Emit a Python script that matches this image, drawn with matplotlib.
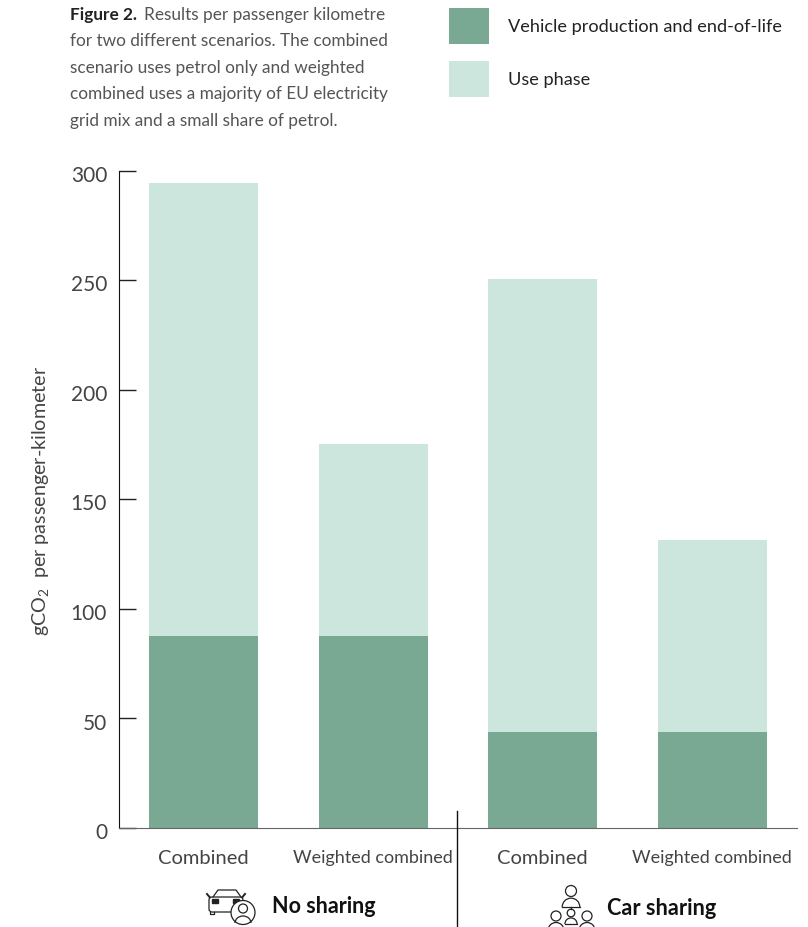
import matplotlib
matplotlib.use('Agg')
from matplotlib import pyplot as plt
from matplotlib.patches import Rectangle, Circle, FancyBboxPatch, Arc
from matplotlib.transforms import ScaledTranslation

categories = ['Combined', 'Weighted combined', 'Combined', 'Weighted combined']
production = [87.4, 87.4, 43.6, 43.6]
use_phase = [207.1, 87.9, 206.9, 87.9]
yticks = [0, 50, 100, 150, 200, 250, 300]
caption_rest = ['Results per passenger kilometre',
                'for two different scenarios. The combined',
                'scenario uses petrol only and weighted',
                'combined uses a majority of EU electricity',
                'grid mix and a small share of petrol.']
legend_labels = ['Vehicle production and end-of-life', 'Use phase']
dark = '#79a893'
light = '#cce6dd'
W, H = 808, 928

plt.rcParams['font.family'] = ['Lato', 'DejaVu Sans']
plt.rcParams['mathtext.default'] = 'regular'
fig = plt.figure(figsize=(W / 100, H / 100), dpi=100)

# axes from x=119..797 px, y=171 (300) .. 828 (0), half a pixel down for the snapping
ax = fig.add_axes([119 / W, 1 - 828.5 / H, 678 / W, 657 / H])
xs = [0, 1, 2, 3]
ax.bar(xs, production, width=0.643, color=dark)
ax.bar(xs, use_phase, width=0.643, bottom=production, color=light)
ax.set_xlim(-0.4985, 3.5)
ax.set_ylim(0, 300)
ax.set_yticks(yticks)
ax.set_xticks(xs)
ax.set_xticklabels(categories)
ax.tick_params(axis='x', length=0, pad=15.5, labelcolor='#444444')
ax.tick_params(axis='y', length=12.2, width=1, color='#222222', direction='in', pad=8.6,
               labelsize=15, labelcolor='#444444')
for t, size in zip(ax.get_xticklabels(), [14.5, 13, 14.5, 13]):
    t.set_fontsize(size)
# the numbers sit a little below their ticks
down = ScaledTranslation(0, -2.5 / 100, fig.dpi_scale_trans)
for t in ax.get_yticklabels():
    t.set_transform(t.get_transform() + down)
for s in ['top', 'right']:
    ax.spines[s].set_visible(False)
ax.spines['left'].set_color('#111111')
ax.spines['bottom'].set_color('#666666')
ax.set_ylabel(r'gCO$_2$  per passenger-kilometer', fontsize=14.2, color='#444444')
ax.yaxis.set_label_coords((51 - 119) / 678, 0.498)


def px(x, y):
    return x / W, 1 - y / H


def ptext(x, y, s, **kw):
    fig.text(*px(x, y), s, va='center', **kw)


# caption
ptext(70, 15, 'Figure 2.', fontsize=12.4, fontweight='bold', color='#222222')
ptext(144, 15, caption_rest[0], fontsize=12.4, color='#555555')
for i, line in enumerate(caption_rest[1:]):
    ptext(70, 41 + i * 26.7, line, fontsize=12.4, color='#555555')

# legend
for y0, c, lab in zip([8, 61], [dark, light], legend_labels):
    fig.add_artist(Rectangle(px(449, y0 + 36.5), 40 / W, 36 / H, color=c, lw=0, transform=fig.transFigure))
    ptext(508, y0 + 19, lab, fontsize=13.1, color='#222222')

# divider between the two groups
fig.add_artist(plt.Line2D([456.5 / W, 456.5 / W], [1 - 812 / H, 0], color='#111111', lw=1))

# group labels
ptext(272, 907, 'No sharing', fontsize=15.5, fontweight='bold', color='#111111')
ptext(607, 909, 'Car sharing', fontsize=15.6, fontweight='bold', color='#111111')


# icons live in a full-figure pixel axes
ov = fig.add_axes([0, 0, 1, 1], facecolor='none')
ov.set_xlim(0, W)
ov.set_ylim(H, 0)
ov.axis('off')


def person(x, y, r):
    ov.add_patch(Circle((x, y), r, fill=False, ec='#222222', lw=0.9))
    ov.add_patch(Arc((x, y + r * 2.9), r * 3.2, r * 3.2, theta1=180, theta2=360, ec='#222222', lw=0.9))
    ov.plot([x - r * 1.6, x + r * 1.6], [y + r * 2.9, y + r * 2.9], color='#222222', lw=0.9)


# car + driver
ov.add_patch(FancyBboxPatch((209, 898), 34, 15, boxstyle='round,pad=0,rounding_size=3', fill=False, ec='#222222', lw=0.9))
ov.plot([213, 218, 236, 241], [898, 891, 891, 898], color='#222222', lw=0.9)
ov.plot([207, 209.5], [895, 898], color='#222222', lw=1.4)
ov.plot([245, 242.5], [895, 898], color='#222222', lw=1.4)
ov.plot([210, 210, 214, 214], [913, 915, 915, 913], color='#222222', lw=0.9)
ov.add_patch(Rectangle((212, 900), 6, 3.5, color='#222222'))
ov.add_patch(Rectangle((233, 900), 6, 3.5, color='#222222'))
ov.add_patch(Circle((243, 913.5), 12, fc='white', ec='#222222', lw=0.9))
ov.add_patch(Circle((243, 909.5), 4.5, fill=False, ec='#222222', lw=0.9))
ov.add_patch(Arc((243, 924), 16, 14, theta1=180, theta2=360, ec='#222222', lw=0.9))

# group of people
person(571, 892, 5.5)
person(556, 917, 5)
person(571, 914, 3.8)
person(587, 917, 5)
ov.plot([571, 571], [908, 910], color='#222222', lw=0.9)

fig.savefig('out.png', dpi=100)
